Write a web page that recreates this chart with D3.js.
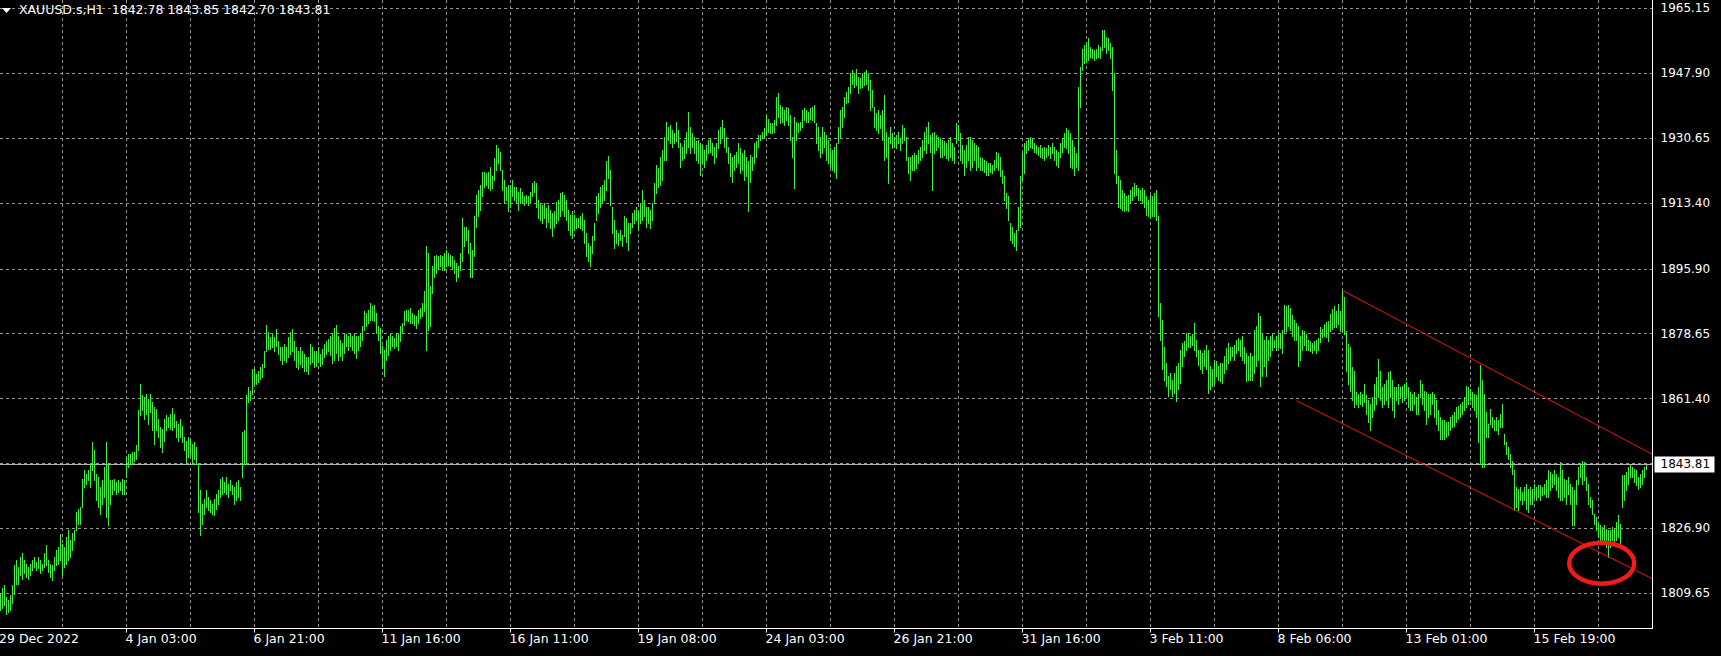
<!DOCTYPE html>
<html>
<head>
<meta charset="utf-8">
<script src="https://cdn.jsdelivr.net/npm/d3@7"></script>
<style>
  html, body { margin:0; padding:0; background:#000; }
  #canvas { width:1721px; height:656px; overflow:hidden; }
  text { font-family: "DejaVu Sans", sans-serif; font-size:12px; fill:#fff; }
  .big { font-size:12.5px; }
</style>
</head>
<body>
<div id="canvas" class="canvas"></div>
<script>
// XAUUSD.s H1 bars (high / low per hourly bar)
var barHigh = [
 1809.6,1811.0,1811.9,1808.8,1807.9,1809.2,1811.9,1817.2,1818.5,1816.7,
 1819.4,1820.3,1818.5,1817.6,1816.7,1817.6,1818.5,1819.4,1818.0,1819.4,
 1818.5,1817.6,1820.3,1822.5,1818.5,1817.6,1817.2,1819.4,1821.1,1822.0,
 1825.4,1822.9,1822.0,1824.7,1826.5,1823.8,1825.6,1826.5,1831.3,1832.2,
 1832.6,1840.2,1842.4,1841.5,1842.4,1844.2,1849.9,1847.7,1841.5,1840.6,
 1838.0,1839.7,1843.3,1849.9,1844.2,1839.7,1839.7,1840.2,1839.3,1839.7,
 1839.3,1840.2,1839.7,1845.9,1846.8,1846.8,1847.2,1847.2,1849.0,1858.3,
 1865.4,1862.3,1861.8,1862.7,1861.4,1862.7,1860.5,1859.2,1858.7,1856.1,
 1853.9,1853.4,1856.1,1857.0,1856.5,1857.4,1859.0,1857.4,1855.6,1854.8,
 1856.1,1854.3,1851.2,1850.3,1851.2,1850.8,1849.4,1849.9,1848.6,1844.2,
 1837.1,1833.5,1834.9,1837.1,1835.3,1834.4,1833.5,1834.9,1836.2,1837.1,
 1840.2,1840.6,1839.3,1840.6,1838.8,1839.7,1838.4,1838.0,1839.3,1839.7,
 1838.0,1852.5,1853.0,1862.3,1864.5,1863.6,1869.4,1869.4,1868.0,1868.9,
 1869.8,1870.7,1874.2,1880.9,1879.1,1877.8,1878.6,1877.8,1880.0,1876.9,
 1875.1,1875.1,1876.0,1875.1,1877.8,1879.1,1880.0,1876.9,1875.1,1874.2,
 1875.1,1874.2,1873.3,1872.5,1872.5,1876.0,1875.1,1874.2,1874.2,1875.1,
 1873.3,1874.7,1876.0,1876.9,1877.3,
 1878.0,1878.9,1880.2,1881.1,1878.0,1877.1,1876.3,1878.9,1878.5,1878.0,
 1878.9,1878.0,1878.9,1878.0,1878.0,1878.5,1880.7,1884.7,1884.2,1885.1,
 1886.9,1886.0,1886.4,1884.2,1880.7,1880.2,1875.4,1874.5,1877.1,1878.0,
 1878.9,1878.0,1877.6,1878.9,1878.5,1880.7,1881.6,1884.7,1885.1,1885.1,
 1885.5,1884.2,1883.8,1883.3,1885.1,1885.5,1886.9,1890.0,1901.9,1900.1,
 1891.3,1896.6,1899.3,1899.7,1899.3,1899.7,1899.3,1900.1,1901.0,1900.1,
 1899.7,1899.3,1898.4,1897.5,1896.6,1900.1,1909.4,1907.2,1907.2,1906.3,
 1902.8,1901.0,1909.9,1915.6,1916.9,1918.3,1921.8,1921.8,1921.4,1921.8,
 1923.1,1920.5,1925.3,1928.9,1928.0,1927.1,1922.3,1919.6,1917.8,1918.3,
 1918.3,1919.6,1917.8,1917.8,1916.5,1917.4,1916.5,1915.2,1915.6,1915.2,
 1916.5,1918.7,1919.2,1918.7,1914.3,1913.4,1913.0,1913.4,1912.1,1913.0,
 1911.6,1910.8,1911.2,1913.8,1914.3,1916.1,1916.5,1915.6,1914.3,1911.6,
 1910.3,1911.2,1910.3,1909.4,1909.4,1909.9,1910.8,1909.0,1905.4,1902.8,
 1901.9,1904.6,1908.1,1915.2,1916.1,1917.8,1918.3,1919.6,1924.5,1926.0,
 1922.3,1912.5,1909.0,1906.3,1905.4,1906.3,1905.0,1909.9,1909.4,1908.1,
 1908.1,1910.8,1911.6,1912.5,1911.2,1913.4,1916.9,1914.3,1912.5,1912.5,
 1911.6,1913.4,1918.7,1923.6,1922.7,
 1925.8,1927.6,1931.1,1935.1,1933.7,1934.2,1932.9,1932.0,1935.1,1932.9,
 1929.3,1928.4,1930.2,1932.4,1937.7,1933.7,1932.0,1931.1,1929.8,1930.2,
 1929.3,1928.9,1927.6,1928.9,1930.2,1930.6,1929.3,1928.4,1929.3,1932.9,
 1933.7,1935.5,1933.3,1931.1,1928.4,1926.7,1925.8,1926.2,1927.1,1929.3,
 1928.0,1926.7,1927.6,1925.8,1924.5,1926.2,1925.8,1929.3,1929.8,1931.5,
 1931.5,1932.4,1933.3,1936.8,1935.9,1934.6,1934.6,1935.5,1941.7,1942.6,
 1939.5,1939.1,1938.2,1939.1,1938.6,1936.8,1931.1,1936.4,1935.1,1934.6,
 1935.1,1938.2,1938.6,1938.2,1937.7,1938.6,1939.1,1939.5,1934.6,1933.7,
 1931.1,1933.7,1932.4,1931.5,1930.2,1928.0,1927.6,1928.4,1929.3,1933.7,
 1938.2,1939.1,1941.7,1943.0,1944.4,1947.9,1948.8,1947.9,1949.2,1947.0,
 1946.6,1947.9,1948.3,1948.8,1947.9,1946.1,1943.5,1939.1,1937.3,1938.2,
 1936.8,1938.2,1942.1,1932.4,1931.1,1933.7,1932.0,1931.1,1931.5,1932.4,
 1930.6,1934.2,1933.3,1931.1,1925.8,1925.8,1926.2,1926.7,1926.2,1927.6,
 1928.4,1930.2,1932.4,1933.7,1935.1,1931.5,1932.0,1932.4,1931.5,1931.1,
 1930.6,1930.2,1929.8,1929.3,1930.2,1931.1,1929.3,1928.4,1934.6,1934.2,
 1932.0,1928.9,1927.6,1928.9,1931.1,1931.1,1930.2,1929.3,1928.9,1928.4,
 1925.8,1925.3,1924.9,1924.5,1924.0,
 1924.0,1923.6,1924.9,1927.1,1926.7,1925.8,1922.2,1920.5,1916.0,1915.2,
 1908.1,1907.2,1905.4,1906.3,1912.5,1920.5,1926.7,1929.3,1929.8,1930.6,
 1931.1,1930.6,1929.3,1928.9,1928.4,1928.9,1928.0,1928.4,1928.0,1928.9,
 1928.4,1929.3,1928.4,1927.6,1927.1,1929.3,1930.6,1932.0,1933.3,1932.9,
 1932.0,1930.2,1928.4,1926.7,1944.4,1949.7,1954.5,1955.4,1956.3,1957.2,
 1955.0,1954.5,1954.1,1954.5,1955.4,1955.0,1959.4,1959.4,1957.6,1957.2,
 1955.9,1955.0,1947.9,1927.6,1920.5,1919.6,1916.9,1916.0,1915.2,1915.6,
 1916.9,1917.8,1918.7,1918.3,1917.4,1916.9,1917.4,1916.9,1915.2,1914.3,
 1915.6,1915.2,1916.0,1916.9,1909.9,1886.9,1882.4,1875.3,1870.9,1867.4,
 1868.3,1866.5,1868.3,1870.1,1870.9,1874.5,1876.2,1876.7,1878.9,1878.9,
 1878.0,1878.5,1881.6,1877.1,1874.5,1874.5,1873.6,1874.5,1875.8,1874.5,
 1870.1,1869.2,1871.8,1871.4,1870.1,1870.9,1870.9,1872.7,1874.9,1876.2,
 1875.3,1875.3,1875.8,1877.1,1877.6,1877.1,1878.0,1875.3,1873.6,1872.7,
 1873.6,1872.7,1879.8,1880.7,1884.2,1883.3,1878.9,1877.1,1878.0,1877.1,
 1878.0,1878.9,1877.1,1878.0,1878.5,1878.9,1879.8,1886.4,1886.0,1886.4,
 1885.5,1883.8,1882.4,1881.6,1880.7,1878.0,1879.8,1879.3,1878.5,1877.1,
 1876.7,1876.2,1876.7,1877.1,1877.6,
 1880.4,1880.0,1881.3,1881.7,1882.2,1884.0,1885.3,1886.2,1884.8,1886.6,
 1884.8,1890.2,1888.4,1879.5,1876.0,1875.1,1869.8,1868.9,1863.2,1862.7,
 1863.2,1862.7,1865.4,1862.3,1861.0,1860.1,1861.8,1865.4,1867.1,1872.0,
 1868.9,1864.5,1865.4,1866.3,1868.5,1868.9,1866.3,1864.5,1864.5,1865.4,
 1864.5,1864.9,1865.4,1865.8,1864.5,1863.2,1862.7,1863.2,1861.8,1862.7,
 1866.3,1865.4,1863.6,1863.2,1862.7,1862.7,1863.2,1862.7,1861.0,1858.3,
 1856.5,1855.7,1855.7,1855.2,1855.2,1856.5,1857.0,1857.9,1859.2,1859.6,
 1860.1,1860.5,1861.8,1864.9,1864.5,1864.1,1863.2,1862.7,1862.3,1864.5,
 1870.3,1866.3,1862.7,1857.9,1854.8,1858.8,1856.5,1855.7,1856.5,1855.7,
 1857.4,1860.1,1852.1,1849.9,1848.6,1846.8,1845.0,1842.4,1837.9,1837.5,
 1837.9,1836.6,1837.9,1838.8,1837.5,1837.9,1837.5,1838.8,1837.9,1838.4,
 1838.4,1837.9,1838.8,1839.7,1842.4,1842.0,1841.5,1842.4,1841.5,1840.6,
 1844.6,1842.4,1840.2,1839.7,1840.6,1838.8,1837.9,1837.1,1839.7,1843.3,
 1844.2,1845.0,1844.6,1840.6,1838.8,1835.3,1834.4,1830.9,1830.0,1828.2,
 1827.8,1827.3,1827.8,1826.9,1826.5,1826.5,1827.3,1826.9,1828.7,1830.5,
 1828.2,1841.1,1841.1,1842.0,1843.3,1843.7,1843.3,1842.8,1842.4,1840.6,
 1841.5,1842.4,1843.3,1843.85
];
var barLow = [
 1805.2,1805.7,1806.6,1804.3,1804.8,1805.2,1807.0,1809.6,1812.3,1812.3,
 1814.5,1813.6,1815.0,1814.1,1813.6,1814.5,1815.8,1816.7,1815.8,1816.3,
 1815.0,1815.8,1816.7,1817.2,1815.4,1814.1,1813.2,1815.8,1817.2,1817.6,
 1818.5,1814.5,1816.7,1817.6,1818.5,1819.4,1821.1,1823.8,1826.5,1828.2,
 1828.2,1832.6,1838.0,1838.8,1839.7,1838.0,1842.4,1839.7,1834.4,1832.6,
 1830.9,1833.5,1835.3,1830.0,1827.8,1833.5,1836.2,1837.1,1836.2,1836.6,
 1837.1,1836.2,1836.2,1840.6,1843.3,1844.2,1844.6,1845.0,1845.5,1847.7,
 1857.0,1858.3,1856.1,1857.4,1854.8,1857.9,1853.0,1849.4,1853.0,1851.2,
 1848.6,1847.2,1850.3,1853.0,1853.9,1853.4,1853.0,1853.9,1851.2,1850.3,
 1851.2,1849.9,1847.7,1844.2,1845.9,1846.4,1844.2,1845.5,1844.2,1831.3,
 1825.1,1828.2,1830.9,1832.6,1831.8,1831.3,1830.9,1830.4,1832.2,1833.5,
 1835.3,1836.2,1836.6,1836.2,1835.3,1837.1,1836.2,1833.5,1834.4,1835.3,
 1834.4,1840.6,1844.2,1844.2,1860.5,1861.0,1862.7,1865.4,1865.4,1865.8,
 1866.7,1867.1,1869.8,1874.2,1874.7,1874.7,1875.1,1874.2,1875.5,1873.3,
 1871.6,1870.7,1871.6,1871.1,1872.5,1873.3,1874.2,1871.6,1869.8,1869.4,
 1870.7,1869.8,1868.9,1868.9,1868.0,1870.7,1871.1,1869.8,1870.2,1871.1,
 1870.2,1870.7,1872.5,1873.3,1874.2,
 1873.1,1870.9,1871.8,1873.6,1871.8,1872.7,1871.8,1873.6,1875.4,1874.5,
 1875.4,1874.5,1873.6,1872.3,1874.5,1875.4,1877.1,1879.8,1880.7,1881.6,
 1882.4,1882.4,1882.0,1878.9,1877.1,1873.6,1869.6,1867.4,1871.8,1873.1,
 1874.5,1875.4,1874.9,1875.4,1874.5,1876.7,1878.9,1881.1,1882.4,1882.0,
 1881.6,1881.6,1881.1,1880.2,1881.6,1882.9,1883.3,1884.7,1874.5,1879.8,
 1880.7,1889.5,1893.9,1894.8,1896.2,1896.6,1895.7,1895.7,1896.6,1897.0,
 1896.6,1896.2,1894.8,1892.6,1893.9,1895.7,1897.9,1901.9,1903.7,1900.1,
 1893.9,1893.9,1899.3,1907.2,1909.9,1911.6,1915.2,1917.8,1918.3,1917.4,
 1916.9,1917.4,1919.6,1922.3,1924.0,1922.3,1916.9,1913.4,1914.3,1911.2,
 1912.5,1915.2,1914.3,1913.4,1911.6,1913.4,1913.8,1913.0,1913.4,1913.0,
 1913.8,1915.2,1916.5,1912.5,1909.4,1909.0,1908.1,1909.4,1907.2,1908.5,
 1906.8,1904.6,1907.2,1908.1,1909.0,1909.9,1911.6,1909.9,1909.0,1906.3,
 1905.0,1904.1,1906.3,1906.8,1907.2,1906.8,1906.3,1902.8,1899.3,1897.9,
 1896.6,1900.1,1903.7,1909.0,1910.8,1912.5,1913.8,1914.3,1916.9,1920.0,
 1913.0,1905.4,1901.5,1902.8,1902.3,1903.7,1901.9,1904.6,1903.2,1901.0,
 1905.4,1907.2,1908.1,1909.0,1906.3,1908.1,1909.0,1909.9,1907.2,1908.1,
 1906.8,1909.0,1913.4,1916.1,1917.8,
 1918.3,1919.6,1924.9,1924.9,1930.2,1929.3,1928.4,1929.3,1929.8,1928.4,
 1923.1,1924.9,1925.3,1926.7,1928.4,1926.7,1928.4,1926.7,1924.9,1924.0,
 1920.9,1924.0,1923.1,1924.9,1926.7,1927.1,1926.2,1924.0,1925.8,1928.0,
 1929.3,1930.6,1928.4,1927.1,1924.0,1920.5,1919.1,1922.2,1923.1,1924.0,
 1921.4,1922.2,1919.6,1920.5,1911.4,1919.1,1922.2,1924.0,1925.8,1928.4,
 1930.2,1930.6,1931.1,1931.5,1932.4,1932.0,1932.0,1932.4,1934.2,1936.4,
 1934.6,1935.1,1934.2,1935.5,1934.2,1930.2,1925.8,1917.4,1930.2,1932.4,
 1932.9,1933.7,1935.5,1935.1,1935.1,1935.9,1935.5,1935.1,1929.3,1927.6,
 1925.8,1926.7,1928.4,1924.9,1924.0,1923.1,1922.2,1921.8,1920.0,1929.3,
 1931.1,1933.7,1936.4,1939.9,1940.4,1942.6,1945.2,1944.4,1944.8,1942.6,
 1943.9,1944.4,1944.8,1945.2,1943.5,1938.2,1939.1,1933.7,1932.9,1932.0,
 1933.3,1930.2,1924.9,1925.8,1918.7,1929.3,1928.0,1928.4,1928.0,1929.3,
 1927.6,1929.3,1930.2,1924.9,1921.4,1919.6,1922.2,1922.2,1922.7,1924.0,
 1924.9,1925.8,1927.6,1926.7,1929.3,1927.1,1916.9,1926.7,1927.6,1928.4,
 1925.8,1925.8,1926.2,1925.3,1924.9,1925.8,1924.9,1924.0,1929.3,1930.2,
 1924.9,1924.0,1920.9,1923.1,1924.9,1922.2,1923.1,1924.9,1922.2,1923.1,
 1922.2,1922.2,1921.8,1920.9,1920.9,
 1921.8,1921.4,1922.2,1923.1,1922.2,1920.5,1918.7,1914.3,1912.0,1909.0,
 1903.7,1902.8,1901.9,1901.0,1906.3,1907.2,1919.6,1921.4,1926.7,1927.6,
 1928.4,1928.0,1927.1,1926.7,1926.2,1925.8,1925.3,1924.9,1925.8,1926.2,
 1925.3,1926.7,1924.9,1923.6,1923.1,1925.8,1927.1,1928.4,1928.0,1926.7,
 1923.1,1922.7,1920.9,1923.1,1922.2,1939.1,1948.8,1950.6,1951.0,1951.4,
 1952.3,1951.9,1951.4,1951.9,1952.3,1951.9,1954.1,1955.0,1953.2,1954.1,
 1951.9,1943.5,1921.4,1918.7,1912.5,1912.0,1911.6,1911.2,1911.6,1911.2,
 1913.4,1914.3,1915.2,1915.6,1914.3,1914.3,1913.4,1912.5,1910.3,1909.9,
 1909.4,1909.9,1909.9,1909.0,1883.3,1877.1,1869.2,1866.5,1864.7,1862.1,
 1863.9,1862.1,1863.0,1860.8,1863.9,1865.6,1870.1,1872.7,1874.5,1875.3,
 1875.3,1875.8,1874.5,1872.7,1870.5,1869.2,1868.3,1870.1,1869.2,1863.0,
 1863.9,1864.7,1865.6,1867.4,1866.5,1866.1,1865.6,1868.3,1869.2,1870.9,
 1871.8,1872.7,1871.8,1873.6,1874.5,1872.7,1871.8,1870.9,1866.1,1866.5,
 1866.5,1866.5,1868.3,1870.1,1871.8,1864.7,1867.4,1870.1,1867.4,1871.8,
 1872.7,1874.5,1875.3,1874.5,1875.3,1874.9,1873.6,1878.9,1879.3,1880.7,
 1879.8,1878.0,1877.1,1877.1,1870.1,1871.8,1874.5,1875.8,1874.5,1874.5,
 1874.1,1873.6,1874.5,1873.6,1874.5,
 1876.4,1877.8,1878.2,1877.8,1876.9,1879.5,1880.0,1880.4,1880.4,1881.3,
 1879.5,1879.5,1878.7,1868.9,1865.4,1863.6,1861.0,1859.2,1860.1,1859.2,
 1860.1,1859.6,1860.5,1857.4,1855.2,1853.0,1856.5,1858.3,1860.1,1861.8,
 1861.0,1859.2,1860.1,1861.0,1859.2,1861.8,1858.3,1856.5,1861.0,1860.1,
 1861.8,1860.5,1861.0,1861.8,1859.2,1858.3,1858.3,1860.1,1857.4,1857.4,
 1861.8,1860.1,1858.3,1854.8,1856.5,1857.4,1860.1,1856.5,1854.8,1853.0,
 1850.8,1850.8,1850.8,1851.2,1851.7,1853.0,1853.9,1854.3,1855.2,1856.1,
 1856.5,1857.4,1858.3,1859.2,1860.1,1861.0,1859.2,1858.3,1856.5,1849.9,
 1844.2,1843.3,1843.3,1851.2,1851.2,1854.8,1853.9,1853.0,1853.0,1852.1,
 1853.9,1853.9,1849.5,1846.8,1845.5,1843.3,1841.5,1831.8,1832.7,1831.8,
 1834.4,1833.5,1834.4,1832.2,1831.3,1833.5,1833.5,1835.3,1834.4,1835.3,
 1834.4,1835.8,1836.2,1835.3,1835.3,1837.1,1837.9,1838.8,1837.1,1835.3,
 1834.4,1834.4,1835.3,1833.5,1836.2,1833.5,1827.8,1827.8,1833.5,1838.8,
 1840.6,1838.8,1839.7,1837.1,1833.5,1832.7,1830.9,1828.2,1826.5,1824.7,
 1823.8,1823.8,1822.9,1822.0,1819.4,1822.0,1823.8,1822.5,1823.8,1824.7,
 1822.9,1832.7,1834.4,1837.1,1838.8,1840.6,1840.6,1839.3,1838.4,1837.5,
 1837.9,1838.8,1840.6,1842.70
];

var header = ['XAUUSD.s,H1', '1842.78', '1843.85', '1842.70', '1843.81'];
var lastPrice = 1843.81;

var priceTicks = [1965.15, 1947.90, 1930.65, 1913.40, 1895.90, 1878.65, 1861.40, 1844.15, 1826.90, 1809.65];

var firstLabel = '29 Dec 2022';
var timeLabels = ['4 Jan 03:00','6 Jan 21:00','11 Jan 16:00','16 Jan 11:00','19 Jan 08:00','24 Jan 03:00',
                  '26 Jan 21:00','31 Jan 16:00','3 Feb 11:00','8 Feb 06:00','13 Feb 01:00','15 Feb 19:00'];
var timeLabelBars = [63, 127, 191, 255, 319, 383, 447, 511, 575, 639, 703, 767];

// hand drawn trend lines [bar, price] and the circle marker
var upperLine = [[671, 1890.2], [740, 1870.8]];
var lowerLine = [[648, 1860.9], [804, 1819.4]];
var marker = [800.6, 1817.7];

var W = 1721, H = 656,
    right = 1652.5,   // price scale border
    bottom = 628.5;   // time scale border

var svg = d3.select('#canvas')
    .append('svg')
    .attr('width', W)
    .attr('height', H)
    .style('display','block');

svg.append('rect').attr('width',W).attr('height',H).attr('fill','#000');

// 2px per bar, like MT4 at this zoom
var x = d3.scaleLinear().domain([0, barHigh.length-1]).range([0.5, 0.5 + 2*(barHigh.length-1)]);
var y = d3.scaleLinear().domain([1809.65, 1965.15]).range([593.5, 8.5]);

function crisp(v){ return Math.round(v - 0.5) + 0.5; }

var plot = svg.append('g').attr('class','plot');

// grid
var gridBars = d3.range(31, barHigh.length, 32);
plot.selectAll('.vgrid')
    .data(gridBars)
    .enter()
    .append('line').attr('class','vgrid')
    .attr('x1', function(d){ return x(d); })
    .attr('x2', function(d){ return x(d); })
    .attr('y1', 0)
    .attr('y2', bottom)
    .attr('stroke','#969696')
    .attr('stroke-dasharray','3,3')
    .attr('shape-rendering','crispEdges');

plot.selectAll('.hgrid')
    .data(priceTicks)
    .enter()
    .append('line').attr('class','hgrid')
    .attr('x1', 0)
    .attr('x2', right)
    .attr('y1', function(d){ return crisp(y(d)); })
    .attr('y2', function(d){ return crisp(y(d)); })
    .attr('stroke','#969696')
    .attr('stroke-dasharray','3,3')
    .attr('shape-rendering','crispEdges');

// bid line
plot.append('line')
    .attr('x1', 0).attr('x2', right)
    .attr('y1', crisp(y(lastPrice))).attr('y2', crisp(y(lastPrice)))
    .attr('stroke','#b4b4b4')
    .attr('shape-rendering','crispEdges');

// bars (high-low only, ticks don't show at this zoom)
plot.selectAll('.bar')
    .data(barHigh)
    .enter()
    .append('line').attr('class','bar')
    .attr('x1', function(d,i){ return x(i); })
    .attr('x2', function(d,i){ return x(i); })
    .attr('y1', function(d){ return Math.round(y(d)); })
    .attr('y2', function(d,i){ return Math.round(y(barLow[i])) + 1; })
    .attr('stroke','#3cf03c')
    .attr('stroke-width',1)
    .attr('shape-rendering','crispEdges');

// trend lines, extended to the right border
function ray(pts){
    var x0 = x(pts[0][0]), y0 = y(pts[0][1]),
        x1 = x(pts[1][0]), y1 = y(pts[1][1]);
    var k = (y1 - y0)/(x1 - x0);
    return [x0, y0, right, y0 + k*(right - x0)];
}
plot.selectAll('.trend')
    .data([upperLine, lowerLine])
    .enter()
    .append('line').attr('class','trend')
    .attr('x1', function(d){ return ray(d)[0]; })
    .attr('y1', function(d){ return ray(d)[1]; })
    .attr('x2', function(d){ return ray(d)[2]; })
    .attr('y2', function(d){ return ray(d)[3]; })
    .attr('stroke','#f01010')
    .attr('stroke-width',1);

plot.append('ellipse')
    .attr('cx', x(marker[0]))
    .attr('cy', y(marker[1]))
    .attr('rx', 32.5)
    .attr('ry', 20.5)
    .attr('fill','none')
    .attr('stroke','#f21a1a')
    .attr('stroke-width',4.5);

// borders
svg.append('line').attr('x1',0).attr('x2',right).attr('y1',bottom).attr('y2',bottom)
    .attr('stroke','#fff').attr('shape-rendering','crispEdges');
svg.append('line').attr('x1',right).attr('x2',right).attr('y1',0).attr('y2',bottom)
    .attr('stroke','#fff').attr('shape-rendering','crispEdges');

// time axis
var xAxis = d3.axisBottom(x)
    .tickValues(timeLabelBars)
    .tickFormat(function(d,i){ return timeLabels[i]; })
    .tickSizeInner(4)
    .tickSizeOuter(0)
    .offset(0);

var gx = svg.append('g')
    .attr('transform','translate(0,' + bottom + ')')
    .style('color','#fff')
    .call(xAxis);
gx.select('.domain').remove();
gx.selectAll('text')
    .attr('class','big')
    .attr('text-anchor','start')
    .attr('x', -1)
    .attr('y', 6);

svg.append('text')
    .attr('class','big')
    .attr('x', -1)
    .attr('y', bottom + 6)
    .attr('dy','0.71em')
    .text(firstLabel);

// price axis
var yAxis = d3.axisRight(y)
    .tickValues(priceTicks)
    .tickFormat(d3.format('.2f'))
    .tickSize(0)
    .offset(0);

var gy = svg.append('g')
    .attr('transform','translate(' + right + ',0)')
    .style('color','#fff')
    .call(yAxis);
gy.select('.domain').remove();
gy.selectAll('text').attr('x', 8);

// current price label
var py = crisp(y(lastPrice));
svg.append('rect')
    .attr('x', right + 2).attr('y', py - 8)
    .attr('width', 60).attr('height', 16)
    .attr('fill','#fff');
svg.append('text')
    .attr('x', right + 8).attr('y', py)
    .attr('dy','0.32em')
    .style('fill','#000')
    .text(d3.format('.2f')(lastPrice));

// header
svg.append('path').attr('d','M2,8L11,8L6.5,13Z').attr('fill','#fff');
svg.append('text')
    .attr('class','big')
    .attr('x', 19).attr('y', 14)
    .style('white-space','pre')
    .text(header[0] + '  ' + header.slice(1).join(' '));
</script>
</body>
</html>
